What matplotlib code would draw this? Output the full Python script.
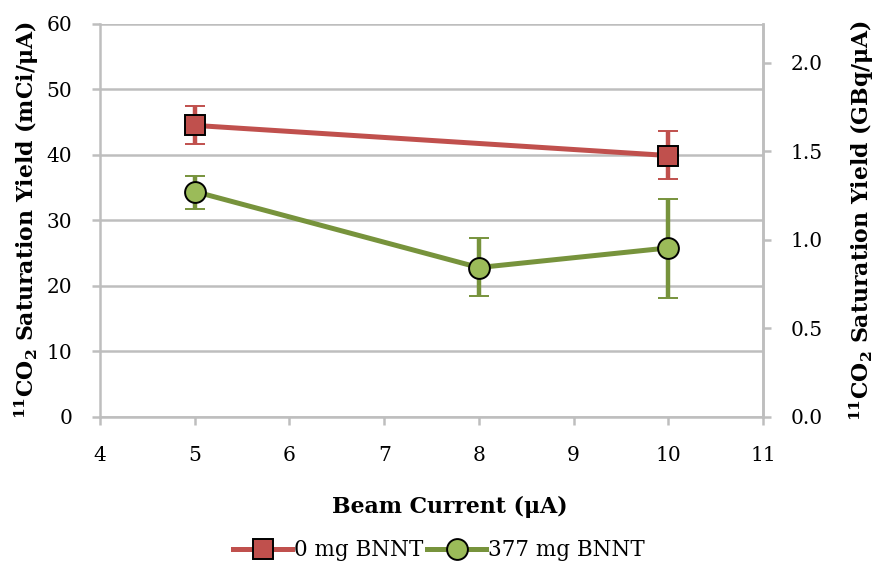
import matplotlib.pyplot as plt
from matplotlib.lines import Line2D
import numpy as np

plt.rcParams['font.family'] = ['DejaVu Serif']
plt.rcParams['mathtext.default'] = 'regular'

# beam current (uA)
x_0mg = [5, 10]
y_0mg = [44.5, 39.9]
err_0mg_lo = [2.9, 3.6]
err_0mg_hi = [3.0, 3.8]

x_377mg = [5, 8, 10]
y_377mg = [34.4, 22.8, 25.8]
err_377mg_lo = [2.6, 4.3, 7.6]
err_377mg_hi = [2.4, 4.5, 7.5]

red = "#C0504D"
green_line = "#77933C"
green_face = "#9BBB59"
grid_col = "#BEBEBE"

fig, ax = plt.subplots(figsize=(8.78, 5.68), dpi=100)
fig.subplots_adjust(left=0.114, right=0.869, top=0.958, bottom=0.266)

ax.errorbar(x_0mg, y_0mg, yerr=[err_0mg_lo, err_0mg_hi], color=red, linewidth=3.6,
            marker="s", markersize=14, markerfacecolor=red, markeredgecolor="black",
            markeredgewidth=1.4, ecolor=red, elinewidth=3.2, capsize=7, capthick=3.2, zorder=3)
ax.errorbar(x_377mg, y_377mg, yerr=[err_377mg_lo, err_377mg_hi], color=green_line, linewidth=3.6,
            marker="o", markersize=15, markerfacecolor=green_face, markeredgecolor="black",
            markeredgewidth=1.4, ecolor=green_line, elinewidth=3.2, capsize=7, capthick=3.2, zorder=3)

ax.set_xlim(4, 11)
ax.set_ylim(0, 60)
ax.set_xticks(np.arange(4, 12, 1))
ax.set_yticks(np.arange(0, 61, 10))
ax.yaxis.grid(True, color=grid_col, linewidth=1.8)
ax.set_axisbelow(True)

ax.spines["top"].set_visible(False)
for s in ["left", "right", "bottom"]:
    ax.spines[s].set_color(grid_col)
    ax.spines[s].set_linewidth(1.8)
ax.tick_params(axis="both", colors=grid_col, width=1.8, length=6, labelsize=14.5, labelcolor="black")
ax.tick_params(axis="x", pad=15)
ax.tick_params(axis="y", pad=14)

ax.set_xlabel("Beam Current (μA)", fontsize=15.8, fontweight="bold", labelpad=20)
ax.xaxis.set_label_coords(0.527, -0.2)
ax.set_ylabel(r"$^{11}$CO$_2$ Saturation Yield (mCi/μA)", fontsize=15.8, fontweight="bold", labelpad=4)

ax2 = ax.twinx()
ax2.set_ylim(0, 60 * 0.037)
ax2.set_yticks([0.0, 0.5, 1.0, 1.5, 2.0])
ax2.set_yticklabels(["0.0", "0.5", "1.0", "1.5", "2.0"])
for s in ["top", "left", "bottom"]:
    ax2.spines[s].set_visible(False)
ax2.spines["right"].set_color(grid_col)
ax2.spines["right"].set_linewidth(1.8)
ax2.tick_params(axis="y", colors=grid_col, width=1.8, length=6, labelsize=14.5, labelcolor="black", pad=14)
ax2.set_ylabel(r"$^{11}$CO$_2$ Saturation Yield (GBq/μA)", fontsize=15.8, fontweight="bold", labelpad=18)

handles = [
    Line2D([], [], color=red, linewidth=3.6, marker="s", markersize=14, markerfacecolor=red,
           markeredgecolor="black", markeredgewidth=1.4),
    Line2D([], [], color=green_line, linewidth=3.6, marker="o", markersize=15, markerfacecolor=green_face,
           markeredgecolor="black", markeredgewidth=1.4),
]
fig.legend(handles, ["0 mg BNNT", "377 mg BNNT"], loc="lower center", bbox_to_anchor=(0.5, -0.022),
           ncol=2, frameon=False, fontsize=15.5, handlelength=2.75, columnspacing=0.15, handletextpad=0.1)

plt.savefig("out.png", dpi=100)
plt.close()
